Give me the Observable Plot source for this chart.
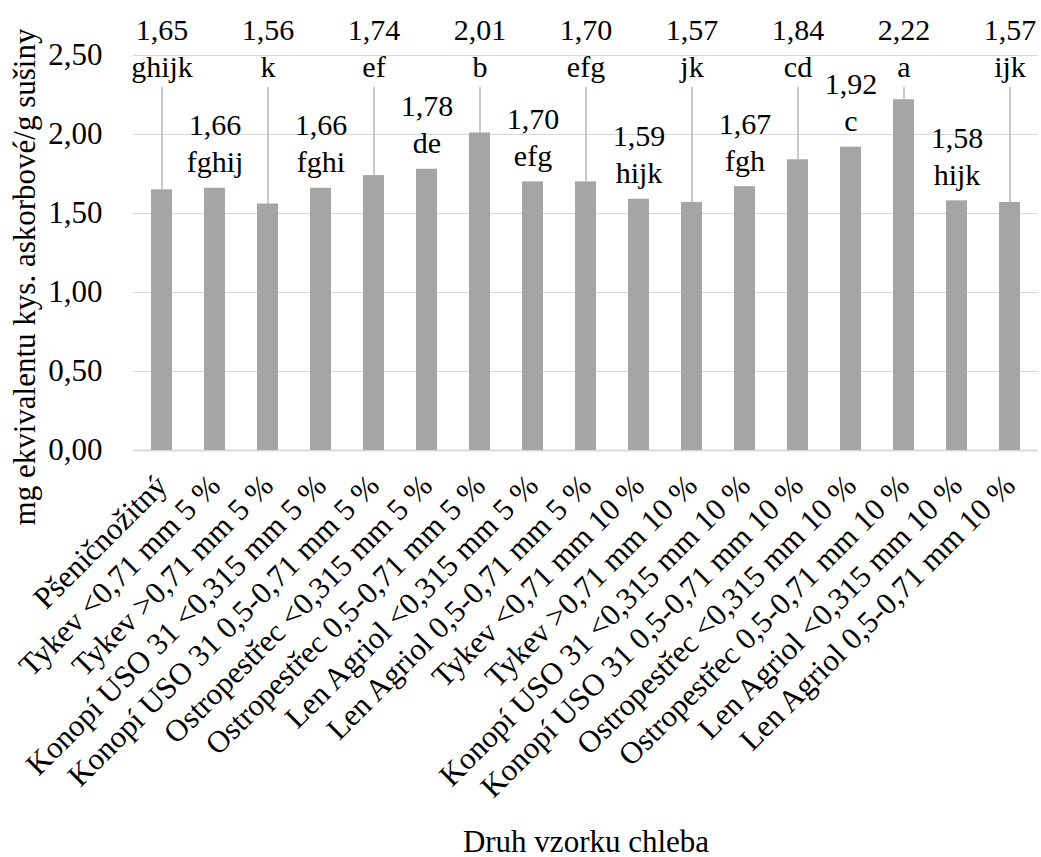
<!DOCTYPE html>
<html lang="cs">
<head>
<meta charset="utf-8">
<script src="https://cdn.jsdelivr.net/npm/d3@7"></script>
<script src="https://cdn.jsdelivr.net/npm/@observablehq/plot@0.6"></script>
<style>
  html, body { margin: 0; padding: 0; background: #fff; }
  #chart svg, #chart svg text { font-family: "Liberation Serif", "Times New Roman", Times, serif; }
</style>
</head>
<body>
<div id="chart"></div>
<script>
// Druh vzorku chleba (bread sample type)
const categories = [
  "Pšeničnožitný",
  "Tykev <0,71 mm 5 %",
  "Tykev >0,71 mm 5 %",
  "Konopí USO 31 <0,315 mm 5 %",
  "Konopí USO 31 0,5-0,71 mm 5 %",
  "Ostropestřec <0,315 mm 5 %",
  "Ostropestřec 0,5-0,71 mm 5 %",
  "Len Agriol <0,315 mm 5 %",
  "Len Agriol 0,5-0,71 mm 5 %",
  "Tykev <0,71 mm 10 %",
  "Tykev >0,71 mm 10 %",
  "Konopí USO 31 <0,315 mm 10 %",
  "Konopí USO 31 0,5-0,71 mm 10 %",
  "Ostropestřec <0,315 mm 10 %",
  "Ostropestřec 0,5-0,71 mm 10 %",
  "Len Agriol <0,315 mm 10 %",
  "Len Agriol 0,5-0,71 mm 10 %"
];

// mg ekvivalentu kyseliny askorbové / g sušiny
const values = [1.65, 1.66, 1.56, 1.66, 1.74, 1.78, 2.01, 1.70, 1.70, 1.59, 1.57, 1.67, 1.84, 1.92, 2.22, 1.58, 1.57];

// homogenní skupiny
const groups = ["ghijk", "fghij", "k", "fghi", "ef", "de", "b", "efg", "efg", "hijk", "jk", "fgh", "cd", "c", "a", "hijk", "ijk"];

const yTicks = [0, 0.5, 1, 1.5, 2, 2.5];
const xTitle = "Druh vzorku chleba";
const yTitle = "mg ekvivalentu kys. askorbové/g sušiny";

// Czech number format: decimal comma
const csLocale = d3.formatLocale({decimal: ",", thousands: "\u00a0", grouping: [3], currency: ["", " Kč"]});
const fmt2 = csLocale.format(".2f");

const rows = categories.map((name, i) => ({
  name,
  value: values[i],
  group: groups[i],
  label: fmt2(values[i]) + "\n" + groups[i],
  raised: i % 2 === 0   // every other label sits in the top row with a leader line
}));
const raisedRows = rows.filter(d => d.raised);
const inlineRows = rows.filter(d => !d.raised);

// top end of the leader lines (in value units, just under the raised labels)
const leaderTop = 2.297;

const barColor = "#a5a5a5";
const gridColor = "#d9d9d9";
const fontFamily = "Liberation Serif";
const textStyle = {fontFamily, fontSize: 30, fill: "#000"};

const chart = Plot.plot({
  width: 1041,
  height: 857,
  marginLeft: 133,
  marginRight: 3,
  marginTop: 55,
  marginBottom: 407,
  style: {fontFamily, fontSize: "30px", color: "#000", background: "#fff", overflow: "visible"},
  x: {domain: categories, paddingInner: 0.6, paddingOuter: 0.3},
  y: {domain: [0, 2.5]},
  marks: [
    Plot.gridY(yTicks, {stroke: gridColor, strokeOpacity: 1, strokeWidth: 1}),
    Plot.ruleY([0], {stroke: gridColor, strokeWidth: 2}),
    Plot.barY(rows, {x: "name", y: "value", fill: barColor}),
    Plot.ruleX(raisedRows, {x: "name", y1: "value", y2: () => leaderTop, stroke: barColor, strokeWidth: 1.2}),
    Plot.text(raisedRows, {
      x: "name", frameAnchor: "top", text: "label",
      lineAnchor: "bottom", lineHeight: 1.233, dy: 21, ...textStyle
    }),
    Plot.text(inlineRows, {
      x: "name", y: "value", text: "label",
      lineAnchor: "bottom", lineHeight: 1.233, dy: -16, ...textStyle
    }),
    Plot.axisY(yTicks, {
      tickSize: 0, tickPadding: 31, tickFormat: fmt2, label: null, ...textStyle, fontSize: 31
    }),
    Plot.axisX({
      tickSize: 0, tickPadding: 30, tickRotate: -45, label: null, ...textStyle, fontSize: 31
    }),
    Plot.text([yTitle], {
      frameAnchor: "left", rotate: -90, textAnchor: "middle", lineAnchor: "bottom",
      dx: -99, dy: 24, ...textStyle, fontSize: 31
    }),
    Plot.text([xTitle], {
      frameAnchor: "bottom", lineAnchor: "bottom", dy: 401, ...textStyle, fontSize: 31
    })
  ]
});

document.getElementById("chart").append(chart);
</script>
</body>
</html>
